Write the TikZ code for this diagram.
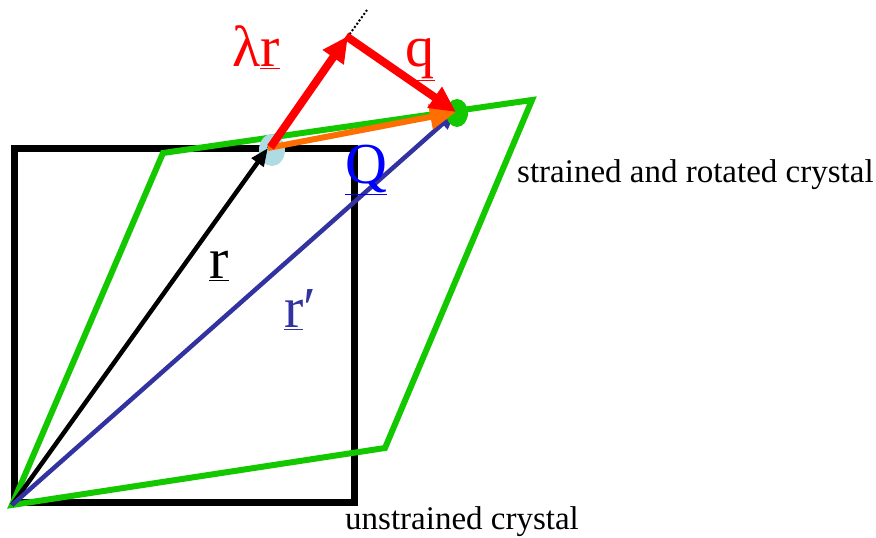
\documentclass[tikz,border=0pt]{standalone}
\usepackage{fontspec}
\setmainfont{Liberation Serif}
\usetikzlibrary{arrows.meta}
\definecolor{grn}{RGB}{20,200,0}
\definecolor{blu}{RGB}{50,50,160}
\definecolor{lblue}{RGB}{175,220,228}
\definecolor{org}{RGB}{255,110,0}
\begin{document}
\begin{tikzpicture}[x=1pt,y=-1pt,
  sq/.style={draw=black,line width=7pt,line join=miter},
  crys/.style={draw=grn,line width=6pt,line join=miter},
  vec/.style={line width=4.5pt,-{Triangle[length=18pt,width=14pt]}},
  bigvec/.style={line width=8pt,-{Triangle[length=26pt,width=24pt]}},
  lab/.style={font=\fontsize{58}{58}\selectfont,inner sep=0pt},
  captext/.style={font=\fontsize{33}{33}\selectfont,inner sep=0pt,anchor=west}]
\useasboundingbox (0,0) rectangle (876,538);
\coordinate (O) at (12,505);
\coordinate (s2) at (354,502);
\coordinate (s3) at (354,148);
\coordinate (s4) at (14,148);
\coordinate (g2) at (385,448);
\coordinate (g3) at (532,100);
\coordinate (g4) at (163,153);
\coordinate (R) at (268,148);
\coordinate (T) at (346,36);
\coordinate (P) at (456,112);
\coordinate (D) at (367,10);
% unstrained square
\draw[sq] (14,502) -- (s2) -- (s3) -- (s4) -- cycle;
% strained crystal
\draw[crys] (O) -- (g2) -- (g3) -- (g4) -- cycle;
% light blue spot
\fill[lblue] (272,150) ellipse (13pt and 16pt);
% dotted extension of r
\draw[black,line width=2pt,dash pattern=on 2pt off 2pt] (R) -- (D);
% r
\draw[vec,black] (O) -- (R);
% r'
\draw[vec,blu] (O) -- (P);
% green spot
\fill[grn] (457,113) ellipse (11pt and 14pt);
% orange
\draw[bigvec,org,line width=6pt] (R) -- (P);
% lambda r
\draw[bigvec,red,shorten <=1pt,transform canvas={xshift=2pt}] (R) -- (T);
% q
\draw[bigvec,red] (T) -- (P);
% labels
\node[lab,red] (lr) at (256,47) {λ\underline{r}};
\node[lab,red] (lq) at (420,60) {\underline{q}};
\node[lab,blue] (lQ) at (366,170) {\underline{Q}};
\node[lab,black] (lrr) at (219,266) {\underline{r}};
\node[lab,blu] (lrp) at (300,310) {\underline{r}′};
\node[captext] (c1) at (517,175) {strained and rotated crystal};
\node[captext] (c2) at (345,522) {unstrained crystal};
\end{tikzpicture}
\end{document}
